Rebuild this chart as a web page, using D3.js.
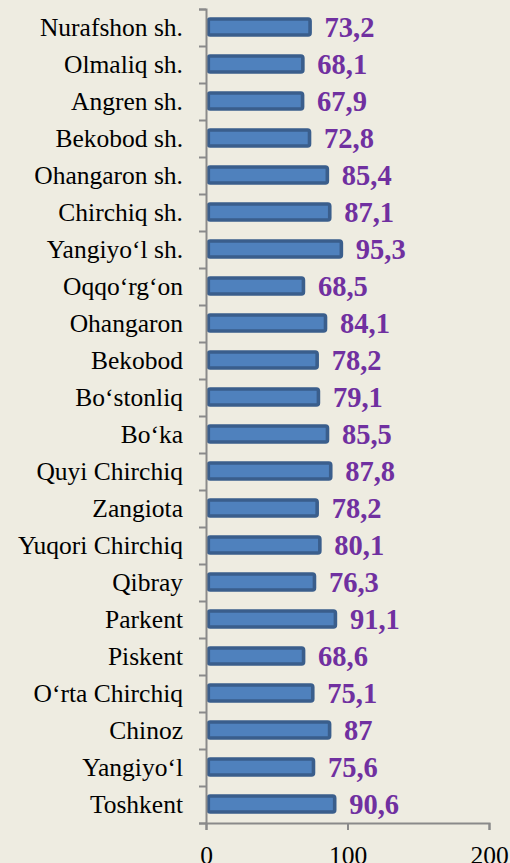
<!DOCTYPE html>
<html>
<head>
<meta charset="utf-8">
<script src="https://cdn.jsdelivr.net/npm/d3@7"></script>
<style>
  html, body { margin: 0; padding: 0; background: #eeece1; }
  svg { display: block; }
  svg text { font-family: "Liberation Serif", "Times New Roman", Tinos, "DejaVu Serif", serif; }
</style>
</head>
<body>
<div id="chart"></div>
<script>
// ---------------- data ----------------
var districts = ["Nurafshon sh.", "Olmaliq sh.", "Angren sh.", "Bekobod sh.", "Ohangaron sh.",
  "Chirchiq sh.", "Yangiyo\u2018l sh.", "Oqqo\u2018rg\u2018on", "Ohangaron", "Bekobod ",
  "Bo\u2018stonliq", "Bo\u2018ka", "Quyi Chirchiq", "Zangiota", "Yuqori Chirchiq",
  "Qibray", "Parkent", "Piskent", "O\u2018rta Chirchiq", "Chinoz", "Yangiyo\u2018l ", "Toshkent"];
var values = [73.2, 68.1, 67.9, 72.8, 85.4, 87.1, 95.3, 68.5, 84.1, 78.2,
  79.1, 85.5, 87.8, 78.2, 80.1, 76.3, 91.1, 68.6, 75.1, 87, 75.6, 90.6];
var xTicks = [0, 100, 200];

// ---------------- layout ----------------
var width = 510, height = 863;
var axisX = 206, plotTop = 9, plotBottom = 823;
var serif = "Liberation Serif, Times New Roman, Tinos, DejaVu Serif, serif";

var svg = d3.select("#chart").append("svg")
  .attr("width", width)
  .attr("height", height);

svg.append("rect")
  .attr("width", width).attr("height", height)
  .attr("fill", "#eeece1");

var x = d3.scaleLinear().domain([0, 200]).range([axisX, 489]);
var y = d3.scaleBand().domain(districts).range([plotTop, plotBottom]).paddingInner(0).paddingOuter(0);
var yEdge = d3.scaleLinear().domain([0, districts.length]).range([plotTop, plotBottom]);

var fmt = function (v) { return String(v).replace(".", ","); };

// bars
var barH = 19.5, sw = 3.6;
svg.selectAll(".bar")
  .data(values)
  .enter().append("rect")
  .attr("class", "bar")
  .attr("x", x(0) + sw / 2 + 0.5)
  .attr("y", function (d, i) { return y(districts[i]) + y.bandwidth() / 2 - barH / 2 + sw / 2 - 0.5; })
  .attr("width", function (d) { return x(d) - x(0) - sw / 2; })
  .attr("height", barH - sw)
  .attr("rx", 2).attr("ry", 2)
  .attr("fill", "#4f81bd")
  .attr("stroke", "#3a5e8c")
  .attr("stroke-width", sw);

// value labels
svg.selectAll(".val")
  .data(values)
  .enter().append("text")
  .attr("class", "val")
  .attr("x", function (d) { return x(d) + 15; })
  .attr("y", function (d, i) { return y(districts[i]) + y.bandwidth() / 2; })
  .attr("dy", "0.35em")
  .attr("fill", "#7030a0")
  .attr("font-family", serif)
  .attr("font-weight", "bold")
  .attr("font-size", 28.5)
  .text(fmt);

// left axis (ticks at band edges)
var gEdge = svg.append("g")
  .attr("transform", "translate(" + axisX + ",0)")
  .call(d3.axisLeft(yEdge)
    .tickValues(d3.range(0, districts.length + 1))
    .tickSize(7)
    .tickFormat(""));
gEdge.select(".domain").attr("stroke", "#8a8a8a").attr("stroke-width", 2);
gEdge.selectAll(".tick line").attr("stroke", "#8a8a8a").attr("stroke-width", 2);

// category labels
var gCat = svg.append("g")
  .attr("transform", "translate(" + axisX + ",0)")
  .attr("font-family", serif)
  .attr("font-size", 25.5)
  .call(d3.axisLeft(y).tickSize(0).tickPadding(23));
gCat.attr("font-family", serif).attr("font-size", 25.5);
gCat.select(".domain").remove();
gCat.selectAll("text")
  .attr("fill", "#000")
  .attr("dy", "0.32em");

// bottom axis
var gX = svg.append("g")
  .attr("transform", "translate(0," + plotBottom + ")")
  .call(d3.axisBottom(x).tickValues(xTicks).tickSize(7).tickPadding(16));
gX.attr("font-family", serif).attr("font-size", 25.5);
gX.select(".domain").attr("stroke", "#8a8a8a").attr("stroke-width", 2);
gX.selectAll(".tick line").attr("stroke", "#8a8a8a").attr("stroke-width", 2);
gX.selectAll("text")
  .attr("fill", "#000")
  .attr("dy", "0.71em");
</script>
</body>
</html>
